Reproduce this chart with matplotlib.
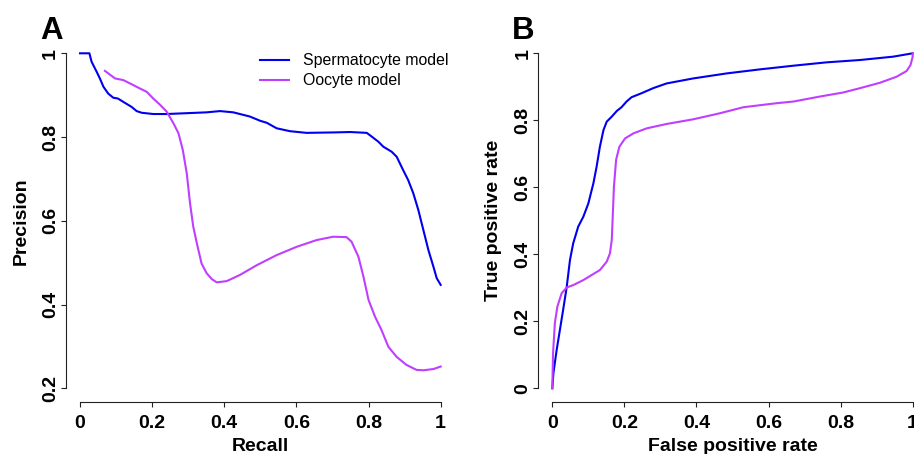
import numpy as np
import matplotlib
matplotlib.use("Agg")
import matplotlib.pyplot as plt

plt.rcParams['font.family'] = ['Liberation Sans', 'DejaVu Sans']

# panel A: precision-recall curves
sperm_recall = [0.0, 0.026, 0.032, 0.046, 0.055, 0.065, 0.078, 0.092, 0.105, 0.12, 0.143, 0.157,
                0.171, 0.203, 0.24, 0.296, 0.351, 0.388, 0.425, 0.471, 0.499, 0.518, 0.545, 0.582,
                0.628, 0.702, 0.749, 0.795, 0.809, 0.827, 0.841, 0.864, 0.878, 0.896, 0.91, 0.924,
                0.938, 0.952, 0.966, 0.98, 0.989, 1.0]
sperm_precision = [1.0, 1.0, 0.98, 0.956, 0.94, 0.92, 0.904, 0.894, 0.892, 0.884, 0.872, 0.862,
                   0.858, 0.855, 0.855, 0.857, 0.859, 0.862, 0.859, 0.849, 0.839, 0.834, 0.821, 0.814,
                   0.81, 0.811, 0.812, 0.81, 0.801, 0.789, 0.777, 0.765, 0.753, 0.721, 0.697, 0.666,
                   0.626, 0.578, 0.53, 0.49, 0.463, 0.447]

oocyte_recall = [0.069, 0.097, 0.12, 0.148, 0.166, 0.185, 0.203, 0.222, 0.24, 0.259, 0.273, 0.285,
                 0.296, 0.305, 0.314, 0.324, 0.337, 0.351, 0.365, 0.379, 0.407, 0.444, 0.49, 0.545,
                 0.601, 0.656, 0.702, 0.739, 0.753, 0.772, 0.786, 0.8, 0.818, 0.836, 0.855, 0.878,
                 0.905, 0.933, 0.952, 0.98, 1.0]
oocyte_precision = [0.958, 0.94, 0.936, 0.924, 0.916, 0.908, 0.892, 0.877, 0.861, 0.833, 0.809, 0.769,
                    0.713, 0.642, 0.586, 0.546, 0.498, 0.475, 0.461, 0.453, 0.456, 0.471, 0.494, 0.518,
                    0.538, 0.554, 0.562, 0.561, 0.55, 0.514, 0.466, 0.411, 0.371, 0.339, 0.299, 0.275,
                    0.256, 0.244, 0.243, 0.246, 0.252]

# panel B: ROC curves
sperm_fpr = [0.0, 0.003, 0.012, 0.021, 0.03, 0.04, 0.049, 0.058, 0.072, 0.086, 0.1, 0.114, 0.123,
             0.132, 0.142, 0.151, 0.165, 0.179, 0.192, 0.206, 0.22, 0.248, 0.28, 0.317, 0.391,
             0.484, 0.576, 0.669, 0.761, 0.854, 0.946, 1.0]
sperm_tpr = [0.0, 0.045, 0.114, 0.174, 0.234, 0.303, 0.383, 0.433, 0.483, 0.512, 0.552, 0.612, 0.662,
             0.721, 0.771, 0.796, 0.811, 0.828, 0.839, 0.856, 0.869, 0.881, 0.896, 0.91, 0.925,
             0.94, 0.952, 0.963, 0.973, 0.98, 0.99, 1.0]

oocyte_fpr = [0.0, 0.002, 0.007, 0.014, 0.026, 0.04, 0.058, 0.086, 0.109, 0.132, 0.151, 0.16, 0.165,
              0.168, 0.171, 0.177, 0.186, 0.202, 0.225, 0.262, 0.317, 0.391, 0.465, 0.53, 0.622,
              0.669, 0.743, 0.807, 0.854, 0.909, 0.955, 0.983, 0.994, 1.0, 1.0]
oocyte_tpr = [0.0, 0.104, 0.194, 0.244, 0.284, 0.301, 0.308, 0.323, 0.338, 0.353, 0.378, 0.403, 0.443,
              0.522, 0.602, 0.682, 0.721, 0.746, 0.761, 0.776, 0.789, 0.803, 0.821, 0.839, 0.851,
              0.856, 0.871, 0.883, 0.896, 0.912, 0.93, 0.947, 0.965, 0.99, 1.0]

labels = ["Spermatocyte model", "Oocyte model"]
col_sperm = "#0000EE"
col_oocyte = "#BF3EFF"

W, H = 914, 454
fig = plt.figure(figsize=(W / 100, H / 100), dpi=100)


def add_panel(left, top, right, bottom):
    # pixel box -> figure fraction
    return fig.add_axes([left / W, 1 - bottom / H, (right - left) / W, (bottom - top) / H])


def style(ax, ymin, ymax, yticks, yticklabels):
    ax.set_xlim(-0.04, 1.04)
    pad = (ymax - ymin) * 0.04
    ax.set_ylim(ymin - pad, ymax + pad)
    for s in ['top', 'right']:
        ax.spines[s].set_visible(False)
    ax.spines['left'].set_bounds(ymin, ymax)
    ax.spines['bottom'].set_bounds(0, 1)
    for s in ['left', 'bottom']:
        ax.spines[s].set_linewidth(0.8)
        ax.spines[s].set_color('#222222')
    xt = [0, 0.2, 0.4, 0.6, 0.8, 1]
    ax.set_xticks(xt)
    ax.set_xticklabels(['0', '0.2', '0.4', '0.6', '0.8', '1'], fontweight='bold')
    ax.set_yticks(yticks)
    ax.set_yticklabels(yticklabels, fontweight='bold', rotation=90, va='center')
    ax.tick_params(axis='both', length=3.6, width=0.8, color='#222222', labelsize=14)
    ax.tick_params(axis='x', pad=6)
    ax.tick_params(axis='y', pad=1)


# panel A
axA = add_panel(65.6, 39.9, 455.1, 401.7)
axA.plot(sperm_recall, sperm_precision, color=col_sperm, lw=1.5, label=labels[0])
axA.plot(oocyte_recall, oocyte_precision, color=col_oocyte, lw=1.5, label=labels[1])
style(axA, 0.2, 1.0, [0.2, 0.4, 0.6, 0.8, 1.0], ['0.2', '0.4', '0.6', '0.8', '1'])
axA.set_xlabel("Recall", fontsize=14, fontweight='bold')
axA.set_ylabel("Precision", fontsize=14, fontweight='bold')
axA.xaxis.set_label_coords(0.5, -(450.6 - 401.7) / 361.8)
axA.xaxis.label.set_va('baseline')
axA.yaxis.set_label_coords((21 - 65.6) / 389.5, 0.5)
axA.yaxis.label.set_va('center')
leg = axA.legend(loc='upper left', bbox_to_anchor=(260 / W, 1 - 53.5 / H), bbox_transform=fig.transFigure,
                 frameon=False, fontsize=11.4, handlelength=1.83, handletextpad=0.9,
                 labelspacing=0.3, borderpad=0, borderaxespad=0)

# panel B
axB = add_panel(537.9, 39.9, 927.1, 401.7)
axB.plot(sperm_fpr, sperm_tpr, color=col_sperm, lw=1.5)
axB.plot(oocyte_fpr, oocyte_tpr, color=col_oocyte, lw=1.5)
style(axB, 0.0, 1.0, [0, 0.2, 0.4, 0.6, 0.8, 1.0], ['0', '0.2', '0.4', '0.6', '0.8', '1'])
axB.set_xlabel("False positive rate", fontsize=14, fontweight='bold')
axB.set_ylabel("True positive rate", fontsize=14, fontweight='bold')
axB.xaxis.set_label_coords((732.5 - 537.9) / 389.2, -(450.6 - 401.7) / 361.8)
axB.xaxis.label.set_va('baseline')
axB.yaxis.set_label_coords((493.8 - 537.9) / 389.2, 0.5)
axB.yaxis.label.set_va('center')

fig.text(40 / W, 1 - 39 / H, "A", fontsize=22.5, fontweight='bold', va='baseline', ha='left')
fig.text(512 / W, 1 - 39 / H, "B", fontsize=22.5, fontweight='bold', va='baseline', ha='left')

fig.savefig("out.png", dpi=100)
